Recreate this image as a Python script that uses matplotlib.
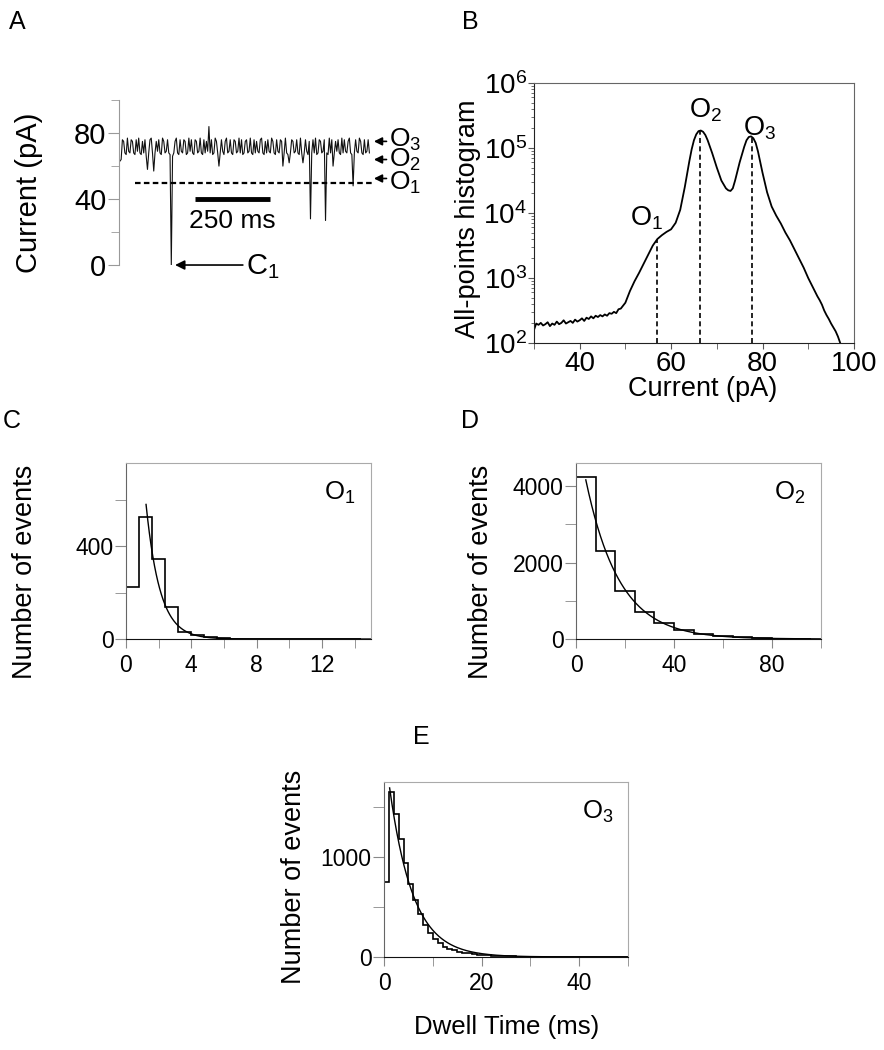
import numpy as np
import matplotlib
matplotlib.use('Agg')
import matplotlib.pyplot as plt
from matplotlib.ticker import MultipleLocator, LogLocator, NullFormatter

plt.rcParams['font.family'] = ['Liberation Sans', 'DejaVu Sans']
plt.rcParams['mathtext.fontset'] = 'custom'
plt.rcParams['mathtext.rm'] = 'Liberation Sans'
plt.rcParams['mathtext.it'] = 'Liberation Sans:italic'
plt.rcParams['mathtext.bf'] = 'Liberation Sans:bold'

# ---------------- data ----------------
# A: single-channel trace (pA), sampled evenly over ~830 ms
trace_pa = [
    63, 64, 76, 75, 68, 67, 77, 69, 68, 76, 75, 68, 67, 76, 69, 77, 68, 67, 75, 68,
    76, 66, 58, 68, 76, 77, 68, 57, 68, 75, 69, 76, 68, 67, 77, 75, 68, 69, 76, 68,
    67, 0, 66, 68, 75, 77, 68, 67, 76, 69, 68, 76, 75, 67, 68, 77, 69, 76, 68, 67,
    76, 75, 68, 69, 77, 68, 67, 76, 68, 75, 69, 84, 68, 76, 67, 68, 77, 75, 68, 60,
    68, 76, 69, 67, 75, 77, 68, 69, 76, 68, 67, 76, 75, 68, 69, 77, 68, 76, 67, 68,
    75, 76, 68, 69, 77, 68, 67, 76, 68, 75, 69, 68, 76, 77, 68, 67, 75, 68, 76, 69,
    68, 77, 75, 68, 67, 76, 69, 68, 76, 75, 60, 68, 77, 68, 67, 62, 68, 76, 75, 68,
    69, 76, 68, 67, 77, 68, 62, 68, 76, 69, 67, 75, 28, 68, 76, 68, 77, 67, 68, 76,
    75, 68, 69, 76, 27, 68, 67, 77, 68, 76, 60, 68, 75, 69, 76, 68, 67, 77, 68, 76,
    69, 68, 75, 77, 68, 67, 48, 68, 76, 69, 68, 77, 75, 68, 67, 76, 68, 69, 76, 68,
]
o1_level = 50
level_arrows = [75, 64, 52.5]
level_text_y = [76, 63.5, 50]
level_names = ['O$_{\\mathregular{3}}$', 'O$_{\\mathregular{2}}$', 'O$_{\\mathregular{1}}$']

# B: all-points histogram
b_current = [30, 30.5, 31, 31.5, 32, 32.5, 33, 33.5, 34, 34.5, 35, 35.5, 36, 36.5,
             37, 37.5, 38, 38.5, 39, 39.5, 40, 40.5, 41, 41.5, 42, 42.5, 43, 43.5,
             44, 44.5, 45, 45.5, 46, 46.5, 47, 47.5, 48, 48.5, 49,
             50, 51, 52, 53, 54, 55, 56, 57, 58, 59, 60, 61, 62, 63, 64, 64.5, 65,
             65.5, 66, 66.5, 67, 67.5, 68, 69, 70, 71, 72, 72.5, 73, 73.5, 74, 75,
             76, 76.5, 77, 77.5, 78, 78.5, 79, 80, 81, 82, 83, 84, 85, 86, 87, 88,
             89, 90, 91, 92, 92.5, 93, 93.5, 94, 94.5, 95, 95.5, 96, 96.5, 97]
b_log_counts = [2.20, 2.30, 2.28, 2.31, 2.27, 2.29, 2.32, 2.26, 2.30, 2.28, 2.33,
                2.29, 2.31, 2.35, 2.30, 2.32, 2.34, 2.31, 2.36, 2.33, 2.35, 2.38,
                2.34, 2.39, 2.37, 2.41, 2.38, 2.42, 2.40, 2.43, 2.41, 2.44, 2.42,
                2.46, 2.45, 2.48, 2.46, 2.52, 2.53,
                2.62, 2.80, 2.95, 3.08, 3.22, 3.36, 3.50, 3.60, 3.66, 3.71, 3.75,
                3.85, 4.05, 4.40, 4.80, 4.98, 5.12, 5.21, 5.26, 5.27, 5.25, 5.20,
                5.12, 4.92, 4.70, 4.50, 4.38, 4.35, 4.34, 4.38, 4.50, 4.78, 5.02,
                5.12, 5.17, 5.18, 5.15, 5.08, 4.95, 4.62, 4.32, 4.10, 3.96, 3.84,
                3.70, 3.58, 3.44, 3.30, 3.16, 3.00, 2.86, 2.72, 2.66, 2.59, 2.50,
                2.43, 2.37, 2.30, 2.24, 2.18, 2.10, 2.00]
peak_current = [56.9, 66.3, 77.6]
peak_log = [3.59, 5.27, 5.18]
peak_names = ['O$_{\\mathregular{1}}$', 'O$_{\\mathregular{2}}$', 'O$_{\\mathregular{3}}$']
peak_label_x = [51.0, 63.9, 75.7]
peak_label_log = [3.92, 5.58, 5.31]

# C, D, E: dwell time histograms and exponential fits
c_bin_ms = 0.8
c_counts = [224, 527, 346, 139, 30, 16, 7, 4, 2, 1, 1, 0, 0, 1, 0, 0, 0, 0]
c_fit = (1.23, 579, 0.85)   # start time, amplitude, tau (ms)

d_bin_ms = 8
d_counts = [4229, 2308, 1251, 714, 432, 229, 132, 70, 40, 22, 12, 6]
d_fit = (4.0, 4160, 13.7)

e_bin_ms = 1
e_counts = [750, 1648, 1425, 1183, 940, 734, 568, 429, 319, 236, 176, 136, 103,
            82, 66, 53, 43, 35, 28, 22, 18, 15, 12, 9, 7, 6, 5, 4, 3, 3, 2, 2,
            1, 1, 1, 1, 0, 0, 0, 0, 0, 0, 0, 0, 0, 0, 0, 0, 0, 0]
e_fit = (1.15, 1690, 4.8)

fig = plt.figure(figsize=(8.84, 10.5), dpi=100)

# ---------------- Panel A ----------------
axA = fig.add_axes([0.1346, 0.7476, 0.286, 0.157])
t = np.linspace(3, 835, len(trace_pa))
axA.plot(t, trace_pa, color='#111111', lw=0.8)
axA.plot([53, 843], [o1_level, o1_level], color='k', lw=1.6, dashes=(2.5, 1.5))
axA.plot([253, 503], [40, 40], color='k', lw=3.5, solid_capstyle='butt')
axA.text(378, 27, '250 ms', ha='center', va='center', fontsize=19)
for yv, ty, name in zip(level_arrows, level_text_y, level_names):
    axA.annotate('', xy=(850, yv), xytext=(892, yv), annotation_clip=False,
                 arrowprops=dict(arrowstyle='-|>', color='k', lw=1.2,
                                 mutation_scale=12, shrinkA=0, shrinkB=0))
    axA.text(900, ty, name, ha='left', va='center', fontsize=19)
axA.annotate('', xy=(187, 0), xytext=(413, 0), annotation_clip=False,
             arrowprops=dict(arrowstyle='-|>', color='k', lw=1.2,
                             mutation_scale=14, shrinkA=0, shrinkB=0))
axA.text(425, -1, 'C$_{\\mathregular{1}}$', ha='left', va='center', fontsize=21)
axA.set_xlim(0, 843)
axA.set_ylim(0, 100)
for s in ['top', 'right', 'bottom']:
    axA.spines[s].set_visible(False)
axA.spines['left'].set_color('#999999')
axA.set_xticks([])
axA.set_yticks([0, 40, 80])
axA.yaxis.set_minor_locator(MultipleLocator(20))
axA.tick_params(axis='y', which='both', direction='out', color='#999999',
                labelsize=21, pad=1)
axA.tick_params(axis='y', which='major', length=8)
axA.tick_params(axis='y', which='minor', length=6)
axA.set_ylabel('Current (pA)', fontsize=21)
axA.yaxis.set_label_coords(-0.30, 0.436)

# ---------------- Panel B ----------------
axB = fig.add_axes([0.604, 0.6733, 0.362, 0.2476])
axB.plot(b_current, 10 ** np.array(b_log_counts), color='k', lw=1.3)
axB.vlines(peak_current, 1e2, 10 ** np.array(peak_log), colors='k',
           linestyles=(0, (3, 2)), lw=1.2)
for px, py, name in zip(peak_label_x, peak_label_log, peak_names):
    axB.text(px, 10 ** py, name, ha='left', va='center', fontsize=19.5)
axB.set_yscale('log')
axB.set_xlim(30, 100)
axB.set_ylim(1e2, 1e6)
axB.xaxis.set_major_locator(MultipleLocator(20))
axB.xaxis.set_minor_locator(MultipleLocator(10))
axB.yaxis.set_major_locator(LogLocator(base=10))
axB.yaxis.set_minor_locator(LogLocator(base=10, subs=np.arange(2, 10)))
axB.yaxis.set_minor_formatter(NullFormatter())
for s in ['top', 'right']:
    axB.spines[s].set_color('#666666')
for s in ['left', 'bottom']:
    axB.spines[s].set_color('#222222')
axB.tick_params(which='both', direction='out', color='#555555', labelsize=20)
axB.tick_params(axis='y', which='major', length=4, pad=1)
axB.tick_params(axis='y', which='minor', length=2)
axB.tick_params(axis='x', which='major', length=4, pad=2)
axB.tick_params(axis='x', which='minor', length=4)
axB.set_xlabel('Current (pA)', fontsize=19.5)
axB.xaxis.set_label_coords(0.528, -0.128)
axB.set_ylabel('All-points histogram', fontsize=19.5)
axB.yaxis.set_label_coords(-0.165, 0.477)


# ---------------- Panels C, D, E ----------------
def dwell_panel(rect, bin_w, counts, fit, xmax, ymax, xmaj, xmin_, ymaj, ymin_,
                name, ylab_xy):
    ax = fig.add_axes(rect)
    edges = np.arange(len(counts) + 1) * bin_w
    ax.stairs(counts, edges, color='k', lw=1.2, baseline=0)
    t0, amp, tau = fit
    tt = np.linspace(t0, xmax, 400)
    ax.plot(tt, amp * np.exp(-(tt - t0) / tau), color='k', lw=1.0)
    ax.set_xlim(0, xmax)
    ax.set_ylim(0, ymax)
    ax.xaxis.set_major_locator(MultipleLocator(xmaj))
    ax.xaxis.set_minor_locator(MultipleLocator(xmin_))
    ax.yaxis.set_major_locator(MultipleLocator(ymaj))
    ax.yaxis.set_minor_locator(MultipleLocator(ymin_))
    for s in ['top', 'right']:
        ax.spines[s].set_color('#aaaaaa')
    ax.spines['left'].set_color('#666666')
    ax.spines['bottom'].set_color('#111111')
    ax.tick_params(which='both', direction='out', color='#888888', labelsize=16.5)
    ax.tick_params(axis='y', which='both', length=8, pad=1)
    ax.tick_params(axis='x', which='both', length=6.5, pad=4)
    ax.text(0.81, 0.83, name, transform=ax.transAxes, ha='left', va='center',
            fontsize=18.5)
    ax.set_ylabel('Number of events', fontsize=19.5)
    ax.yaxis.set_label_coords(*ylab_xy)
    return ax


dwell_panel([0.1425, 0.3914, 0.277, 0.1676], c_bin_ms, c_counts, c_fit, 15, 757,
            4, 2, 400, 200, 'O$_{\\mathregular{1}}$', (-0.36, 0.38))
dwell_panel([0.6516, 0.3914, 0.277, 0.1676], d_bin_ms, d_counts, d_fit, 100, 4600,
            40, 20, 2000, 1000, 'O$_{\\mathregular{2}}$', (-0.335, 0.38))
axE = dwell_panel([0.4344, 0.0886, 0.276, 0.1667], e_bin_ms, e_counts, e_fit, 50,
                  1750, 20, 10, 1000, 500, 'O$_{\\mathregular{3}}$', (-0.316, 0.46))
axE.set_xlabel('Dwell Time (ms)', fontsize=18.6)
axE.xaxis.set_label_coords(0.504, -0.33)

# panel letters
for lab, x, y in [('A', 17, 22), ('B', 470, 22), ('C', 12, 421), ('D', 470, 421),
                  ('E', 421, 737)]:
    fig.text(x / 884, 1 - y / 1050, lab, ha='center', va='center', fontsize=18)

fig.savefig('out.png', dpi=100)
